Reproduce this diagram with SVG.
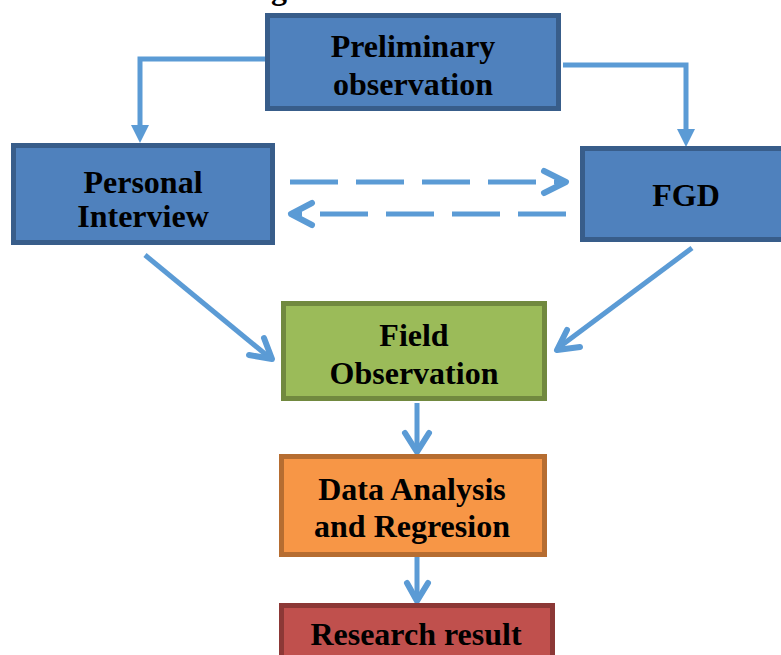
<svg xmlns="http://www.w3.org/2000/svg" width="781" height="655" viewBox="0 0 781 655">
<style>
.box{stroke-width:5}
.blue{fill:#4F81BD;stroke:#385D8A}
.green{fill:#9BBB59;stroke:#71893F}
.orange{fill:#F79646;stroke:#B66D31}
.red{fill:#C0504D;stroke:#8C3836}
.t{font-family:"Liberation Serif","Times New Roman",serif;font-weight:bold;font-size:32px;fill:#000;text-anchor:middle}
.c{fill:none;stroke:#5B9BD5;stroke-width:5}
.h{fill:none;stroke:#5B9BD5;stroke-width:6;stroke-linecap:round;stroke-linejoin:round}
.d{fill:none;stroke:#5B9BD5;stroke-width:5;stroke-dasharray:48 18}
.tri{fill:#5B9BD5}
</style>
<rect width="781" height="655" fill="#fff"/>
<text class="t" x="279" y="-1">g</text>
<g id="connectors">
  <polyline class="c" points="265,59 140,59 140,127"/>
  <polygon class="tri" points="131,125 149,125 140,143"/>
  <polyline class="c" points="563,65 686,65 686,131"/>
  <polygon class="tri" points="677,129 695,129 686,147"/>
  <line class="d" x1="290" y1="182" x2="560" y2="182"/>
  <polyline class="h" points="544,171 566,182 544,193"/>
  <line class="d" x1="566" y1="214" x2="296" y2="214"/>
  <polyline class="h" points="312,203 291,214 312,225"/>
  <line class="c" x1="145" y1="255" x2="270" y2="358"/>
  <polyline class="h" points="249,355 272,359 264,338"/>
  <line class="c" x1="692" y1="248" x2="558" y2="348"/>
  <polyline class="h" points="567,330 557,350 580,347"/>
  <line class="c" x1="417" y1="403" x2="417" y2="451"/>
  <polyline class="h" points="405,433 417,452 429,433"/>
  <line class="c" x1="417" y1="557" x2="417" y2="601"/>
  <polyline class="h" points="407,583 417,601 428,583"/>
</g>
<g id="preliminary">
  <rect class="box blue" x="267.5" y="15.5" width="291" height="93"/>
  <text class="t" x="413" y="57">Preliminary</text>
  <text class="t" x="413" y="95">observation</text>
</g>
<g id="personal">
  <rect class="box blue" x="13.5" y="145.5" width="259" height="97"/>
  <text class="t" x="143" y="193">Personal</text>
  <text class="t" x="143" y="227">Interview</text>
</g>
<g id="fgd">
  <rect class="box blue" x="582.5" y="148.5" width="210" height="91"/>
  <text class="t" x="686" y="206">FGD</text>
</g>
<g id="field">
  <rect class="box green" x="283.5" y="303.5" width="261" height="95"/>
  <text class="t" x="414" y="346">Field</text>
  <text class="t" x="414" y="384">Observation</text>
</g>
<g id="data">
  <rect class="box orange" x="281.5" y="456.5" width="263" height="98"/>
  <text class="t" x="412" y="500">Data Analysis</text>
  <text class="t" x="412" y="537">and Regresion</text>
</g>
<g id="result">
  <rect class="box red" x="281.5" y="605.5" width="271" height="60"/>
  <text class="t" x="416" y="645">Research result</text>
</g>
</svg>
